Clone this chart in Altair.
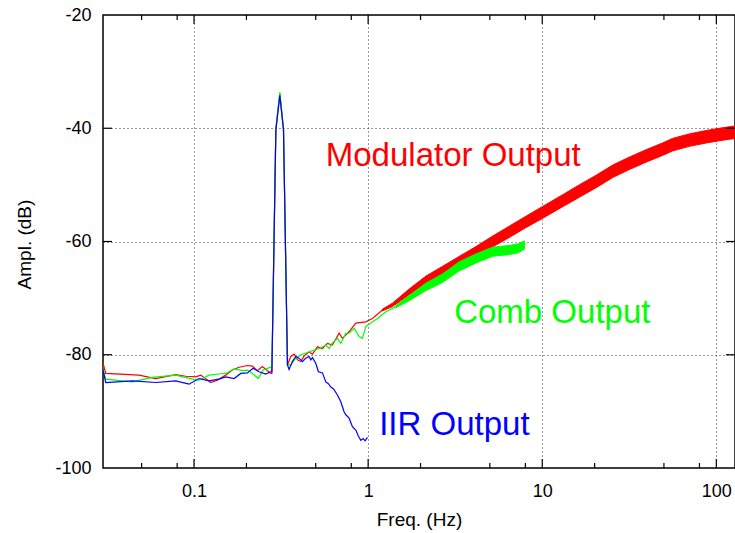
import altair as alt
import pandas as pd

# ---------------- data ----------------
# Modulator output (red) – thin trace part
red_f = [0.0297, 0.0311, 0.0483, 0.0602, 0.0785, 0.0896, 0.1022, 0.1093, 0.1247, 0.136,
         0.152, 0.166, 0.1815, 0.2025, 0.2163, 0.231, 0.247, 0.276, 0.280, 0.2951, 0.311,
         0.3265, 0.3441, 0.3594, 0.3756, 0.3929, 0.4106, 0.4289, 0.4582, 0.4788, 0.5114,
         0.5464, 0.5838, 0.6237, 0.6813, 0.7117, 0.7776, 0.8497, 0.970, 1.0586, 1.208, 1.379]
red_db = [-80.9, -83.3, -83.6, -84.2, -83.5, -83.8, -83.9, -83.6, -84.9, -84.5,
          -83.6, -82.7, -82.2, -81.9, -82.0, -82.8, -82.1, -83.3, -83.3, -40.3, -34.0,
          -40.3, -81.8, -80.3, -79.9, -80.9, -81.2, -80.2, -79.5, -79.9, -78.6,
          -78.9, -78.0, -78.3, -76.2, -77.1, -75.9, -74.4, -74.2, -73.6, -72.1, -71.2]
# Modulator output (red) – dense noisy band (centre and half width)
redband_f = [1.208, 1.379, 1.72, 2.15, 2.67, 3.33, 4.16, 5.19, 6.46, 8.0, 10.0, 13.1,
             16.3, 20.4, 25.4, 31.6, 39.4, 49.1, 56.0, 69.9, 87.5, 109.0, 128.0]
redband_c = [-72.1, -71.2, -68.9, -66.8, -65.2, -63.5, -61.8, -60.0, -58.3, -56.6, -54.9, -52.8,
             -51.1, -49.4, -47.6, -46.2, -44.9, -43.7, -42.9, -42.1, -41.5, -41.0, -40.7]
redband_w = [0.15, 0.3, 0.5, 0.7, 0.8, 0.85, 0.9, 0.95, 1.0, 1.0, 1.05, 1.05,
             1.1, 1.1, 1.1, 1.1, 1.1, 1.1, 1.1, 1.1, 1.1, 1.1, 1.1]

# Comb output (green)
grn_f = [0.0297, 0.0311, 0.0442, 0.0576, 0.0785, 0.0981, 0.1067, 0.1220, 0.1388, 0.152,
         0.170, 0.190, 0.2025, 0.2163, 0.234, 0.249, 0.276, 0.280, 0.2951, 0.311, 0.3265,
         0.3441, 0.3594, 0.384, 0.4106, 0.4485, 0.4788, 0.5229, 0.5712, 0.5966, 0.6237,
         0.6662, 0.6967, 0.7447, 0.7776, 0.8310, 0.888, 0.9273, 0.970, 1.0364, 1.131,
         1.264, 1.443]
grn_db = [-81.8, -84.3, -84.8, -84.0, -83.6, -84.3, -84.5, -83.6, -83.4, -83.3,
          -82.5, -82.8, -82.7, -83.3, -84.2, -82.7, -82.2, -82.2, -40.0, -33.6, -40.0,
          -81.8, -81.8, -80.6, -80.0, -79.6, -79.3, -78.9, -78.3, -78.9, -77.9,
          -77.1, -78.0, -76.2, -76.2, -75.3, -76.8, -77.1, -75.0, -74.4, -73.6,
          -72.4, -71.5]
grnband_f = [1.443, 1.72, 2.15, 2.67, 3.33, 4.16, 5.19, 6.46, 7.3, 7.9]
grnband_c = [-71.5, -70.0, -68.0, -66.5, -64.4, -63.0, -61.8, -61.5, -61.2, -60.6]
grnband_w = [0.2, 0.45, 0.65, 0.75, 0.8, 0.8, 0.8, 0.8, 0.8, 0.7]

# IIR output (blue)
blu_f = [0.0297, 0.0311, 0.0442, 0.0602, 0.0785, 0.0936, 0.1067, 0.1220, 0.1388, 0.152,
         0.170, 0.1855, 0.2025, 0.2184, 0.2363, 0.2582, 0.276, 0.280, 0.2951, 0.311, 0.3265,
         0.3441, 0.3516, 0.367, 0.384, 0.4013, 0.4193, 0.4385, 0.458, 0.4684, 0.4788,
         0.5002, 0.5183, 0.5464, 0.5712, 0.5909, 0.6103, 0.6317, 0.6662, 0.6967, 0.7281,
         0.7447, 0.7776, 0.8125, 0.8497, 0.8795, 0.9079, 0.9360, 0.9611, 0.9908]
blu_db = [-82.1, -84.9, -84.6, -84.9, -84.6, -85.2, -84.2, -84.6, -84.3, -83.9,
          -84.2, -83.3, -83.2, -82.4, -83.0, -83.4, -83.0, -83.0, -40.3, -34.2, -40.3,
          -81.8, -82.6, -81.2, -80.3, -80.6, -81.2, -80.6, -80.3, -80.9, -80.5,
          -81.5, -83.0, -83.2, -84.8, -85.1, -85.7, -86.0, -87.1, -88.3, -90.1,
          -90.6, -91.2, -92.7, -93.3, -94.4, -95.1, -94.8, -95.2, -94.6]

labels = ["Modulator Output", "Comb Output", "IIR Output"]
label_f = [0.571, 3.12, 1.157]
label_db = [-46.6, -74.4, -94.2]
label_col = ["#ff0000", "#00ff00", "#0000ff"]

x_major = [0.1, 1, 10, 100]
x_minor = [0.05, 0.08, 0.2, 0.5, 0.8, 2, 5, 8, 20, 50, 80]
y_major = [-100, -80, -60, -40, -20]
y_inner = [-80, -60, -40]

W, H = 632, 453

# ---------------- build ----------------
xscale = alt.Scale(type="log", domain=[0.03, 128], nice=False)
yscale = alt.Scale(domain=[-100, -20], nice=False, zero=False)

xaxis = alt.Axis(values=x_major, labelExpr="'' + datum.value", title="Freq. (Hz)", grid=True,
                 gridDash=[1, 3], gridColor="#333333", gridWidth=1,
                 ticks=False, tickSize=0, domain=False, labelPadding=14,
                 labelFontSize=18, labelFont="Liberation Sans", labelColor="black",
                 titleFontSize=19, titleFont="Liberation Sans", titleFontWeight="normal",
                 titleColor="black", titleY=57, titleBaseline="alphabetic")
yaxis = alt.Axis(values=y_major, labelExpr="'' + datum.value", title="Ampl. (dB)", grid=True,
                 gridDash=[1, 3], gridColor="#333333", gridWidth=1,
                 ticks=False, tickSize=0, domain=False, labelPadding=12,
                 labelFontSize=18, labelFont="Liberation Sans", labelColor="black",
                 titleFontSize=19, titleFont="Liberation Sans", titleFontWeight="normal",
                 titleColor="black", titleX=-79, titleY=229, titleAngle=-90,
                 titleAlign="center", titleBaseline="middle")


def X(field="f"):
    return alt.X(f"{field}:Q", scale=xscale, axis=xaxis)


def Y(field="db"):
    return alt.Y(f"{field}:Q", scale=yscale, axis=yaxis)


def line(fs, dbs, color):
    df = pd.DataFrame({"f": fs, "db": dbs})
    return alt.Chart(df).mark_line(color=color, strokeWidth=1.2, clip=True).encode(
        x=X(), y=Y(), order=alt.Order("f:Q"))


def band(fs, cs, ws, color):
    df = pd.DataFrame({"f": fs, "db": [c - w for c, w in zip(cs, ws)],
                       "hi": [c + w for c, w in zip(cs, ws)]})
    return alt.Chart(df).mark_area(color=color, opacity=1, clip=True,
                                   stroke=color, strokeWidth=1).encode(
        x=X(), y=Y(), y2="hi:Q")


red_line = line(red_f, red_db, "#ff0000")
red_band = band(redband_f, redband_c, redband_w, "#ff0000")
grn_line = line(grn_f, grn_db, "#00ff00")
grn_band = band(grnband_f, grnband_c, grnband_w, "#00ff00")
blu_line = line(blu_f, blu_db, "#0000ff")

txt = alt.Chart(pd.DataFrame({"f": label_f, "db": label_db, "label": labels,
                              "c": label_col})).mark_text(
    align="left", baseline="alphabetic", fontSize=33, font="Liberation Sans").encode(
    x=X(), y=Y(), text="label:N", color=alt.Color("c:N", scale=None))

# inward tick marks
tick_major_b = alt.Chart(pd.DataFrame({"f": x_major})).mark_rule(color="black", strokeWidth=1.2).encode(
    x=X(), y=alt.value(H), y2=alt.value(H - 9))
tick_major_t = alt.Chart(pd.DataFrame({"f": x_major})).mark_rule(color="black", strokeWidth=1.2).encode(
    x=X(), y=alt.value(0), y2=alt.value(9))
tick_minor_b = alt.Chart(pd.DataFrame({"f": x_minor})).mark_rule(color="black", strokeWidth=1.2).encode(
    x=X(), y=alt.value(H), y2=alt.value(H - 5))
tick_minor_t = alt.Chart(pd.DataFrame({"f": x_minor})).mark_rule(color="black", strokeWidth=1.2).encode(
    x=X(), y=alt.value(0), y2=alt.value(5))
tick_y_l = alt.Chart(pd.DataFrame({"db": y_inner})).mark_rule(color="black", strokeWidth=1.2).encode(
    y=Y(), x=alt.value(0), x2=alt.value(9))
tick_y_r = alt.Chart(pd.DataFrame({"db": y_inner})).mark_rule(color="black", strokeWidth=1.2).encode(
    y=Y(), x=alt.value(W - 9), x2=alt.value(W))

chart = alt.layer(
    red_line, red_band, grn_line, grn_band, blu_line, txt,
    tick_major_b, tick_major_t, tick_minor_b, tick_minor_t, tick_y_l, tick_y_r
).properties(
    width=W, height=H,
    autosize=alt.AutoSizeParams(type="none"),
    padding={"left": 103, "top": 15, "right": 0, "bottom": 65},
    background="white",
).configure_view(stroke="black", strokeWidth=1.5)

chart.save("out.html", embed_options={"renderer": "svg", "actions": False})
